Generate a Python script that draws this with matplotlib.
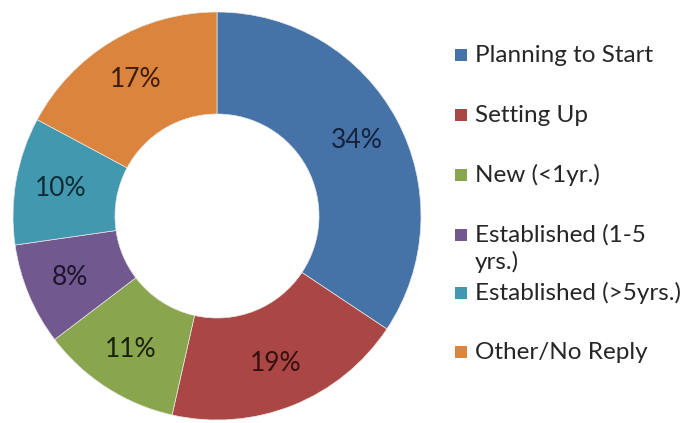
import numpy as np
import matplotlib.pyplot as plt
from matplotlib.patches import Rectangle

labels = ["Planning to Start", "Setting Up", "New (<1yr.)",
          "Established (1-5\nyrs.)", "Established (>5yrs.)", "Other/No Reply"]
shares = [34, 19, 11, 8, 10, 17]
pct_text = ["34%", "19%", "11%", "8%", "10%", "17%"]
colors = ["#4572A7", "#AA4643", "#89A54E", "#71588F", "#4198AF", "#DB843D"]
text_colors = ["#15223c", "#361010", "#18220a", "#1e142b", "#0e2c35", "#3f1e06"]

plt.rcParams['font.family'] = ['Lato', 'DejaVu Sans']

W, H = 687, 423
fig = plt.figure(figsize=(W / 100, H / 100), dpi=100)

# donut: centre ~ (217, 216) px, outer radius ~ 204 px
cx, cy, r = 217, 216, 204
ax = fig.add_axes([(cx - r) / W, (H - cy - r) / H, 2 * r / W, 2 * r / H])
wedges, _ = ax.pie(shares, colors=colors, startangle=90, counterclock=False,
                   radius=1, wedgeprops=dict(width=0.5, edgecolor="#e8e8e8", linewidth=0.5))
ax.set_xlim(-1, 1)
ax.set_ylim(-1, 1)
ax.set_aspect("equal")
ax.axis("off")

# percentage labels in the middle of each ring segment
total = sum(shares)
start = 90.0
for val, txt, tc in zip(shares, pct_text, text_colors):
    mid = start - val / total * 360 / 2
    start -= val / total * 360
    ang = np.deg2rad(mid)
    ax.text(0.78 * np.cos(ang), 0.78 * np.sin(ang), txt, ha="center", va="center",
            fontsize=19, color=tc)

# legend drawn by hand to match the spacing of the original
row_y = [55, 115, 175, 235, 293, 352]
for lab, col, y in zip(labels, colors, row_y):
    fig.patches.append(Rectangle((455 / W, (H - y - 6) / H), 12 / W, 12 / H,
                                 transform=fig.transFigure, facecolor=col, edgecolor="none"))
    lines = lab.split("\n")
    for k, line in enumerate(lines):
        fig.text(475 / W, (H - y - 27 * k) / H, line, ha="left", va="center",
                 fontsize=17.5, color="#262626")

fig.savefig("out.png", dpi=100)
